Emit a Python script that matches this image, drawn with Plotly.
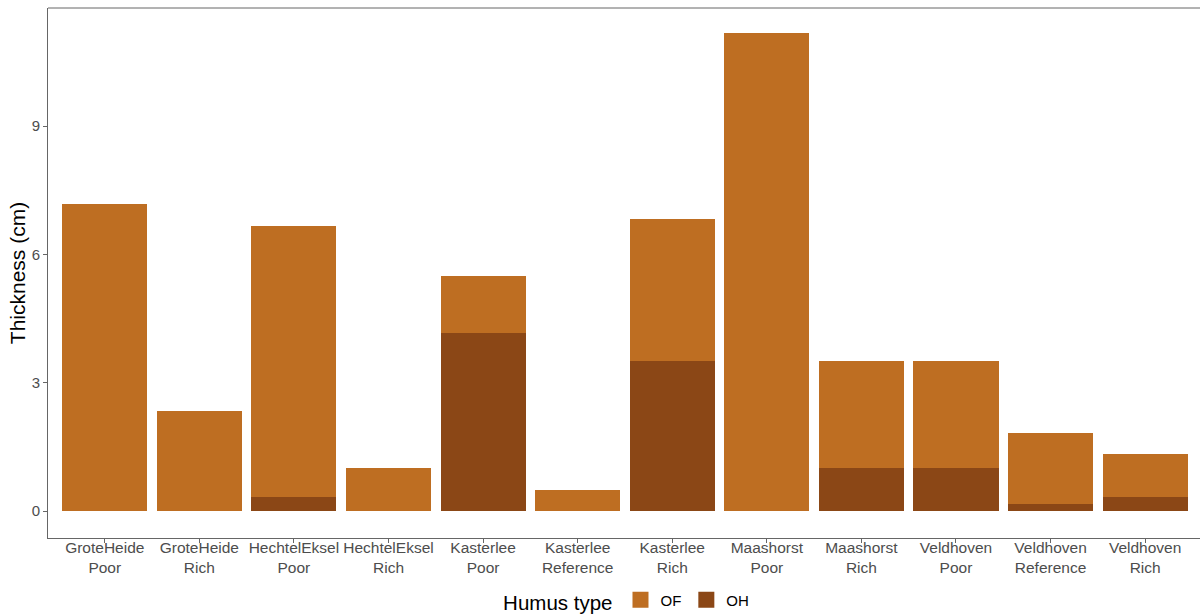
import plotly.graph_objects as go

sites = ["GroteHeide", "GroteHeide", "HechtelEksel", "HechtelEksel", "Kasterlee", "Kasterlee",
         "Kasterlee", "Maashorst", "Maashorst", "Veldhoven", "Veldhoven", "Veldhoven"]
treatments = ["Poor", "Rich", "Poor", "Rich", "Poor", "Reference",
              "Rich", "Poor", "Rich", "Poor", "Reference", "Rich"]
total_thickness = [7.17, 2.34, 6.67, 1.0, 5.5, 0.5, 6.83, 11.17, 3.5, 3.5, 1.83, 1.33]
oh_thickness = [0.0, 0.0, 0.33, 0.0, 4.17, 0.0, 3.5, 0.0, 1.0, 1.0, 0.17, 0.33]
of_thickness = [round(t - h, 2) for t, h in zip(total_thickness, oh_thickness)]
y_ticks = [0, 3, 6, 9]
humus_types = ["OF", "OH"]

labels = [f"{s}<br>{t}" for s, t in zip(sites, treatments)]

COLORS = {"OF": "#BE6E22", "OH": "#8B4716"}
FONT = "Liberation Sans, Arial, sans-serif"

fig = go.Figure()
fig.add_trace(go.Bar(x=labels, y=oh_thickness, name="OH", showlegend=False,
                     marker=dict(color=COLORS["OH"], line=dict(width=0))))
fig.add_trace(go.Bar(x=labels, y=of_thickness, name="OF", showlegend=False,
                     marker=dict(color=COLORS["OF"], line=dict(width=0))))
# legend keys
for h in humus_types:
    fig.add_trace(go.Scatter(x=[None], y=[None], mode="markers", name=h,
                             marker=dict(symbol="square", size=22, color=COLORS[h], line=dict(width=0))))

fig.update_layout(
    width=1200, height=616,
    barmode="stack", bargap=0.1,
    plot_bgcolor="white", paper_bgcolor="white",
    margin=dict(l=48, r=0, t=8, b=78, autoexpand=False),
    font=dict(family=FONT, color="#4D4D4D", size=15),
    legend=dict(orientation="h", x=0.523, xanchor="center", xref="container",
                y=0.0227, yanchor="middle", yref="container",
                title=dict(text="Humus type", font=dict(size=20.5, color="black"), side="left"),
                font=dict(size=15, color="black"), traceorder="normal",
                itemwidth=30),
    showlegend=True,
)
fig.update_xaxes(range=[-0.6, 11.58], showline=True, linecolor="#666666", linewidth=1,
                 ticks="outside", ticklen=4, tickcolor="#666666", showgrid=False,
                 tickfont=dict(size=15.5, color="#4D4D4D"), automargin=False,
                 ticklabelstandoff=-9)
fig.update_yaxes(range=[-0.63, 11.76], tickvals=y_ticks, showline=True, linecolor="#666666", linewidth=1,
                 ticks="outside", ticklen=4, tickcolor="#666666", showgrid=False, zeroline=False,
                 tickfont=dict(size=15, color="#4D4D4D"), automargin=False,
                 title=dict(text="Thickness (cm)", font=dict(size=21, color="black"), standoff=0))
fig.add_shape(type="line", xref="paper", yref="paper", x0=0, x1=1, y0=1, y1=1,
              line=dict(color="#666666", width=1))

fig.write_html("out.html", config={"displayModeBar": False},
               post_script="document.body.style.margin='0';document.body.style.overflow='hidden';")
